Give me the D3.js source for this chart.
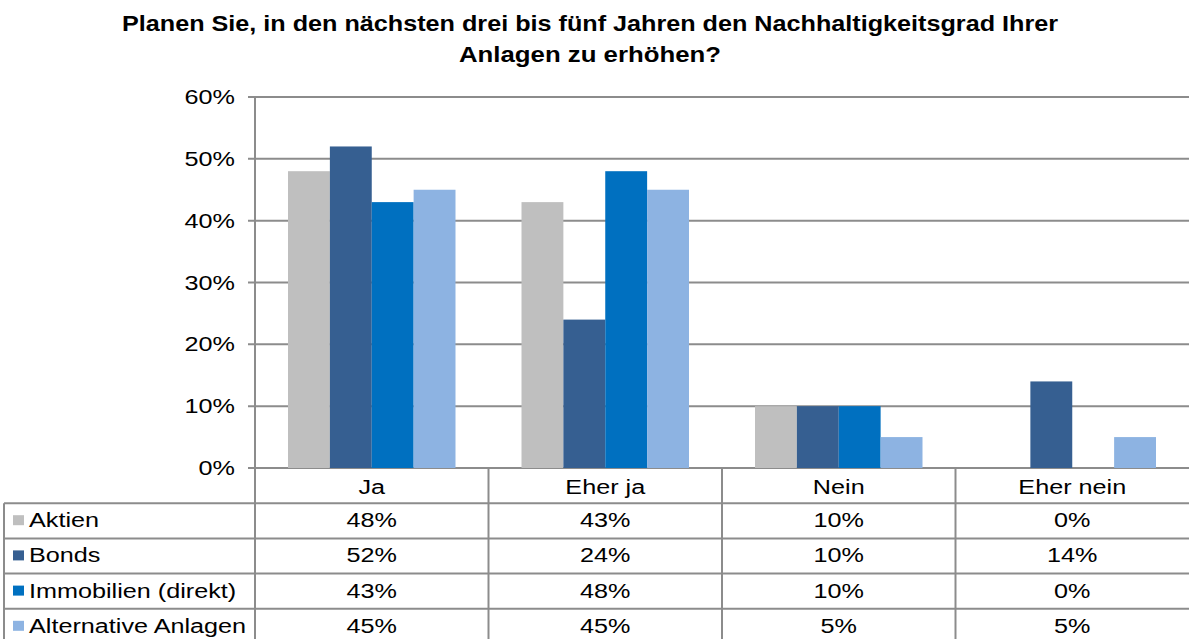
<!DOCTYPE html>
<html>
<head>
<meta charset="utf-8">
<script src="https://cdn.jsdelivr.net/npm/d3@7"></script>
<style>
  body { margin: 0; background: #fff; }
  svg { display: block; font-family: "Liberation Sans", Arial, sans-serif; }
</style>
</head>
<body>
<svg id="chart"></svg>
<script>
/** * * * * CONSTANTS * * * */
const width = 1190;
const height = 639;
const plot = { left: 255, right: 1189, top: 97, bottom: 468 };
const rowH = 35.2;
const stretchX = 1.2; // the source picture is a bit wider than tall

// data
const categories = ['Ja', 'Eher ja', 'Nein', 'Eher nein'];
const seriesNames = ['Aktien', 'Bonds', 'Immobilien (direkt)', 'Alternative Anlagen'];
const aktien = [48, 43, 10, 0];
const bonds = [52, 24, 10, 14];
const immobilien = [43, 48, 10, 0];
const alternative = [45, 45, 5, 5];
const yTicks = [0, 10, 20, 30, 40, 50, 60];
const titleLines = ['Planen Sie, in den nächsten drei bis fünf Jahren den Nachhaltigkeitsgrad Ihrer',
  'Anlagen zu erhöhen?'];

const seriesValues = [aktien, bonds, immobilien, alternative];

function colorMap(name) {
  switch (name) {
    case 'Aktien': return '#bfbfbf';
    case 'Bonds': return '#365f91';
    case 'Immobilien (direkt)': return '#0070c0';
    case 'Alternative Anlagen': return '#8db3e2';
  }
}

const gridColor = '#8c8c8c';

/**
 * Puts a text at (x, y) and widens it horizontally
 */
function addText(parent, x, y, str, anchor) {
  return parent.append('text')
    .attr('transform', `translate(${x},${y}) scale(${stretchX},1)`)
    .attr('text-anchor', anchor || 'start')
    .style('font-size', '21px')
    .attr('fill', '#000')
    .text(str);
}

const svg = d3.select('#chart')
  .attr('width', width)
  .attr('height', height);

// title
svg.append('text')
  .attr('x', 590).attr('y', 31)
  .attr('text-anchor', 'middle')
  .style('font-weight', 'bold')
  .style('font-size', '22px')
  .attr('textLength', 936)
  .attr('lengthAdjust', 'spacingAndGlyphs')
  .text(titleLines[0]);
svg.append('text')
  .attr('x', 590).attr('y', 62)
  .attr('text-anchor', 'middle')
  .style('font-weight', 'bold')
  .style('font-size', '22px')
  .attr('textLength', 262)
  .attr('lengthAdjust', 'spacingAndGlyphs')
  .text(titleLines[1]);

// scales
const yScale = d3.scaleLinear()
  .domain([0, 60])
  .range([plot.bottom, plot.top]);

const x0 = d3.scaleBand()
  .domain(categories)
  .range([plot.left, plot.right])
  .padding(0);

const x1 = d3.scaleBand()
  .domain(seriesNames)
  .range([33, x0.bandwidth() - 33])
  .padding(0);

// gridlines
svg.append('g')
  .selectAll('line')
  .data(yTicks)
  .enter()
  .append('line')
  .attr('x1', plot.left - 7)
  .attr('x2', plot.right)
  .attr('y1', d => yScale(d))
  .attr('y2', d => yScale(d))
  .attr('stroke', gridColor)
  .attr('stroke-width', 2);

// y axis labels
const yLabels = svg.append('g');
yTicks.forEach(function(t) {
  addText(yLabels, 235, yScale(t) + 7, t + '%', 'end');
});

// bars
const groups = svg.append('g')
  .selectAll('g')
  .data(categories)
  .enter()
  .append('g')
  .attr('transform', d => `translate(${x0(d)},0)`);

groups.selectAll('rect')
  .data((c, i) => seriesNames.map((s, j) => ({ series: s, value: seriesValues[j][i] })))
  .enter()
  .append('rect')
  .attr('x', d => x1(d.series))
  .attr('y', d => yScale(d.value))
  .attr('width', x1.bandwidth())
  .attr('height', d => plot.bottom - yScale(d.value))
  .attr('fill', d => colorMap(d.series));

// table
const table = svg.append('g');
const tableTop = plot.bottom;
const nRows = seriesNames.length + 1;

// horizontal lines
for (let r = 1; r <= nRows; r++) {
  let y = tableTop + r * rowH;
  table.append('line')
    .attr('x1', 4)
    .attr('x2', plot.right)
    .attr('y1', y).attr('y2', y)
    .attr('stroke', gridColor)
    .attr('stroke-width', 2);
}

// y axis line, runs through the table
table.append('line')
  .attr('x1', plot.left).attr('x2', plot.left)
  .attr('y1', plot.top).attr('y2', height)
  .attr('stroke', gridColor)
  .attr('stroke-width', 2);

// column dividers, only inside the table
categories.slice(0, -1).forEach(function(c) {
  let x = x0(c) + x0.bandwidth();
  table.append('line')
    .attr('x1', x).attr('x2', x)
    .attr('y1', tableTop).attr('y2', height)
    .attr('stroke', gridColor)
    .attr('stroke-width', 2);
});
table.append('line')
  .attr('x1', 4).attr('x2', 4)
  .attr('y1', tableTop + rowH).attr('y2', height)
  .attr('stroke', gridColor)
  .attr('stroke-width', 2);

// category header
categories.forEach(function(c) {
  addText(table, x0(c) + x0.bandwidth() / 2, tableTop + 26, c, 'middle');
});

// rows
seriesNames.forEach(function(s, j) {
  let y = tableTop + (j + 1) * rowH;
  table.append('rect')
    .attr('x', 13).attr('y', y + 12)
    .attr('width', 11).attr('height', 10)
    .attr('fill', colorMap(s));
  addText(table, 29, y + 24, s);
  seriesValues[j].forEach(function(v, i) {
    addText(table, x0(categories[i]) + x0.bandwidth() / 2, y + 24, v + '%', 'middle');
  });
});
</script>
</body>
</html>
